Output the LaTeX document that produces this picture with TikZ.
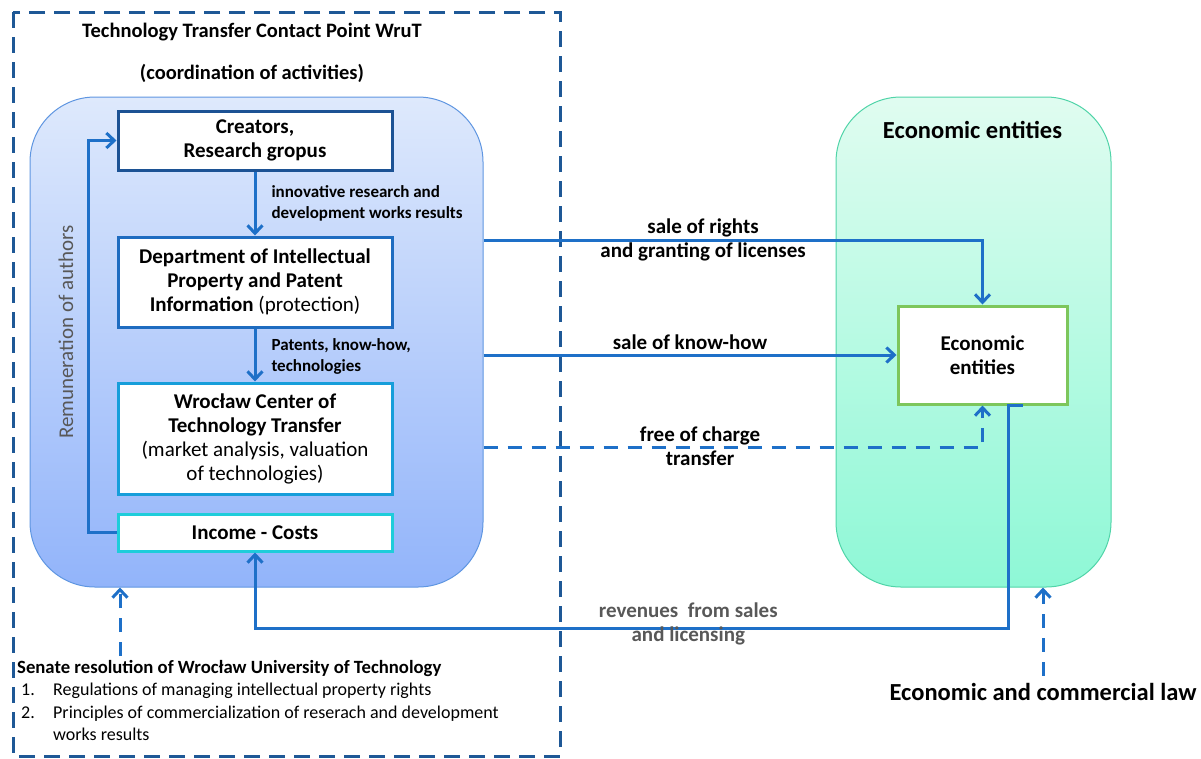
\documentclass[tikz,border=0pt]{standalone}
\usepackage{fontspec}
\setmainfont{Carlito}
\usepackage{xcolor}
\definecolor{ttflow}{RGB}{30,112,200}
\definecolor{ttframe}{RGB}{30,88,150}
\definecolor{ttnavy}{RGB}{28,82,148}
\definecolor{ttmid}{RGB}{30,108,192}
\definecolor{ttsky}{RGB}{22,158,218}
\definecolor{ttcyan}{RGB}{30,205,218}
\definecolor{ttgreen}{RGB}{125,198,92}
\definecolor{ttgray}{RGB}{88,88,88}
\usetikzlibrary{arrows.meta,positioning}

\begin{document}
\begin{tikzpicture}[x=1pt,y=-1pt,
  panel/.style={rounded corners=65pt,line width=1pt},
  unitbox/.style={draw,fill=white,line width=3pt,minimum width=274pt,align=center,
    font=\fontsize{21}{24}\selectfont\bfseries,inner sep=2pt},
  flowlbl/.style={font=\fontsize{17}{21}\selectfont\bfseries,align=left,anchor=west},
  linklbl/.style={font=\fontsize{21}{24}\selectfont\bfseries,align=center,text=black},
  flow/.style={-{Straight Barb[length=8pt,width=15pt]},line width=3pt,ttflow},
  flowdash/.style={flow,dash pattern=on 14pt off 10pt},
  frame/.style={draw=ttframe,line width=3pt,dash pattern=on 16pt off 9pt}
]
  \useasboundingbox (0,0) rectangle (1201,758);
  % dashed frame of the contact point
  \draw[frame] (13,12) rectangle (560,756);
  \node[font=\fontsize{20.5}{42}\selectfont\bfseries,align=center] (title) at (252,53)
    {Technology Transfer Contact Point WruT\\(coordination of activities)};
  % the two panels
  \node[panel,draw={rgb,255:red,95;green,150;blue,225},top color={rgb,255:red,222;green,233;blue,252},
    bottom color={rgb,255:red,146;green,180;blue,250},minimum width=453pt,minimum height=490pt]
    (leftpanel) at (256.5,342) {};
  \node[panel,draw={rgb,255:red,80;green,212;blue,168},top color={rgb,255:red,224;green,252;blue,240},
    bottom color={rgb,255:red,142;green,248;blue,214},minimum width=275pt,minimum height=490pt]
    (ecopanel) at (973.5,342) {};
  \node[font=\fontsize{24.5}{28}\selectfont\bfseries] (ecohead) at (972.5,130) {Economic entities};
  % units of the university
  \node[unitbox,draw=ttnavy,minimum height=59pt] (creators) at (255,140.5)
    {Creators,\\Research gropus};
  \node[unitbox,draw=ttmid,minimum height=90pt] (dept) at (255,282)
    {Department of Intellectual\\Property and Patent\\Information \mdseries(protection)};
  \node[unitbox,draw=ttsky,minimum height=111pt] (wctt) at (255,438.5)
    {Wroc\l{}aw Center of\\Technology Transfer\\\mdseries(market analysis, valuation\\\mdseries of technologies)};
  \node[unitbox,draw=ttcyan,minimum height=37pt] (income) at (255,532.5) {Income - Costs};
  \node[unitbox,draw=ttgreen,minimum width=169pt,minimum height=98pt] (ecobox) at (982.5,355)
    {Economic\\entities};
  % flows inside the university
  \draw[flow] (creators) -- (dept);
  \node[flowlbl] at (268,203) {innovative research and\\development works results};
  \draw[flow] (dept) -- (wctt);
  \node[flowlbl] at (268,356) {Patents, know-how,\\technologies};
  \draw[flow] (income.west) -- ++(-28,0) |- (creators.west);
  \node[rotate=90,font=\fontsize{21}{24}\selectfont,text=ttgray] (remun) at (66,332)
    {Remuneration of authors};
  % flows to the economic entities
  \draw[flow] (leftpanel.east |- 0,240) -| node[linklbl,pos=0.22] {sale of rights\\and granting of licenses}
    (ecobox.north);
  \draw[flow] (ecobox.west -| leftpanel.east) -- node[linklbl,above=1pt] {sale of know-how} (ecobox.west);
  \draw[flowdash] (leftpanel.east |- 0,447) -| node[linklbl,pos=0.217,yshift=1pt] {free of charge\\transfer}
    (ecobox.south);
  \coordinate (revout) at ([xshift=40pt]ecobox.south);
  \draw[flow] (revout) -- ++(-14,0) -- ++(0,223) -| node[linklbl,text=ttgray,pos=0.2125,yshift=5pt]
    {revenues~ from sales\\and licensing} (income.south);
  % legal frame
  \node[anchor=north west,align=left,font=\fontsize{18}{22.5}\selectfont,inner sep=0pt] (senate) at (17,660)
    {{\fontsize{18.7}{22.5}\selectfont\bfseries Senate resolution of Wroc\l{}aw University of Technology}\\
     \hspace*{4pt}\makebox[32pt][l]{1.}Regulations of managing intellectual property rights\\
     \hspace*{4pt}\makebox[32pt][l]{2.}Principles of commercialization of reserach and development\\
     \hspace*{4pt}\makebox[32pt][l]{}works results};
  \coordinate (senatein) at (120,656);
  \draw[flowdash] (senatein) -- (senatein |- leftpanel.south);
  \node[font=\fontsize{24.5}{28}\selectfont\bfseries] (law) at (1043,692) {Economic and commercial law};
  \draw[flowdash] ([yshift=4pt]law.north) -- (law.north |- ecopanel.south);
\end{tikzpicture}
\end{document}
